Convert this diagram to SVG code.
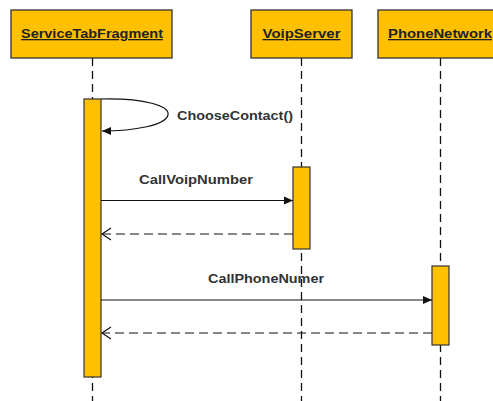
<svg xmlns="http://www.w3.org/2000/svg" width="493" height="401" viewBox="0 0 493 401">
<defs>
<style>
.box{fill:#FFC000;stroke:#333;stroke-width:1.3}
.act{fill:#FFC000;stroke:#333;stroke-width:1.2}
.life{stroke:#111;stroke-width:1.3;stroke-dasharray:8,5;fill:none}
.msg{stroke:#111;stroke-width:1.2;fill:none}
.ret{stroke:#111;stroke-width:1.2;fill:none;stroke-dasharray:9,5}
.title{font-family:"Liberation Sans",Arial,sans-serif;font-weight:bold;font-size:13px;fill:#222;text-anchor:middle;text-decoration:underline}
.lbl{font-family:"Liberation Sans",Arial,sans-serif;font-weight:bold;font-size:13px;fill:#333}
</style>
<marker id="solid" markerWidth="10" markerHeight="10" refX="9" refY="5" orient="auto" markerUnits="userSpaceOnUse">
<path d="M0,1 L9,5 L0,9 z" fill="#111"/>
</marker>
<marker id="open" markerWidth="12" markerHeight="14" refX="10" refY="7" orient="auto" markerUnits="userSpaceOnUse">
<path d="M1,1 L10,7 L1,13" fill="none" stroke="#111" stroke-width="1.2"/>
</marker>
</defs>
<rect width="493" height="401" fill="#fff"/>

<g id="lifelines">
<line class="life" x1="92.5" y1="58" x2="92.5" y2="401"/>
<line class="life" x1="301.5" y1="58" x2="301.5" y2="401"/>
<line class="life" x1="440.5" y1="58" x2="440.5" y2="401"/>
</g>

<g id="ServiceTabFragment">
<rect class="box" x="11" y="10" width="161" height="48"/>
<text class="title" x="92" y="38" textLength="142" lengthAdjust="spacingAndGlyphs">ServiceTabFragment</text>
<rect class="act" x="84" y="99" width="17" height="278"/>
</g>

<g id="VoipServer">
<rect class="box" x="251" y="10" width="101" height="48"/>
<text class="title" x="301.5" y="38" textLength="78" lengthAdjust="spacingAndGlyphs">VoipServer</text>
<rect class="act" x="293" y="167" width="17" height="82"/>
</g>

<g id="PhoneNetwork">
<rect class="box" x="378" y="10" width="124" height="48"/>
<text class="title" x="440" y="38" textLength="104" lengthAdjust="spacingAndGlyphs">PhoneNetwork</text>
<rect class="act" x="432" y="266" width="17" height="79"/>
</g>

<g id="connectors">
<path class="msg" d="M101,99 C145,98 170,106 168,115 C166,125 135,131 102,131" marker-end="url(#solid)"/>
<text class="lbl" x="177" y="120" textLength="116" lengthAdjust="spacingAndGlyphs">ChooseContact()</text>

<line class="msg" x1="101" y1="200.5" x2="293" y2="200.5" marker-end="url(#solid)"/>
<text class="lbl" x="139" y="184" textLength="114" lengthAdjust="spacingAndGlyphs">CallVoipNumber</text>
<line class="ret" x1="293" y1="234" x2="102" y2="234" marker-end="url(#open)"/>

<line class="msg" x1="101" y1="300" x2="432" y2="300" marker-end="url(#solid)"/>
<text class="lbl" x="208" y="283" textLength="116" lengthAdjust="spacingAndGlyphs">CallPhoneNumer</text>
<line class="ret" x1="432" y1="333" x2="102" y2="333" marker-end="url(#open)"/>
</g>
</svg>
